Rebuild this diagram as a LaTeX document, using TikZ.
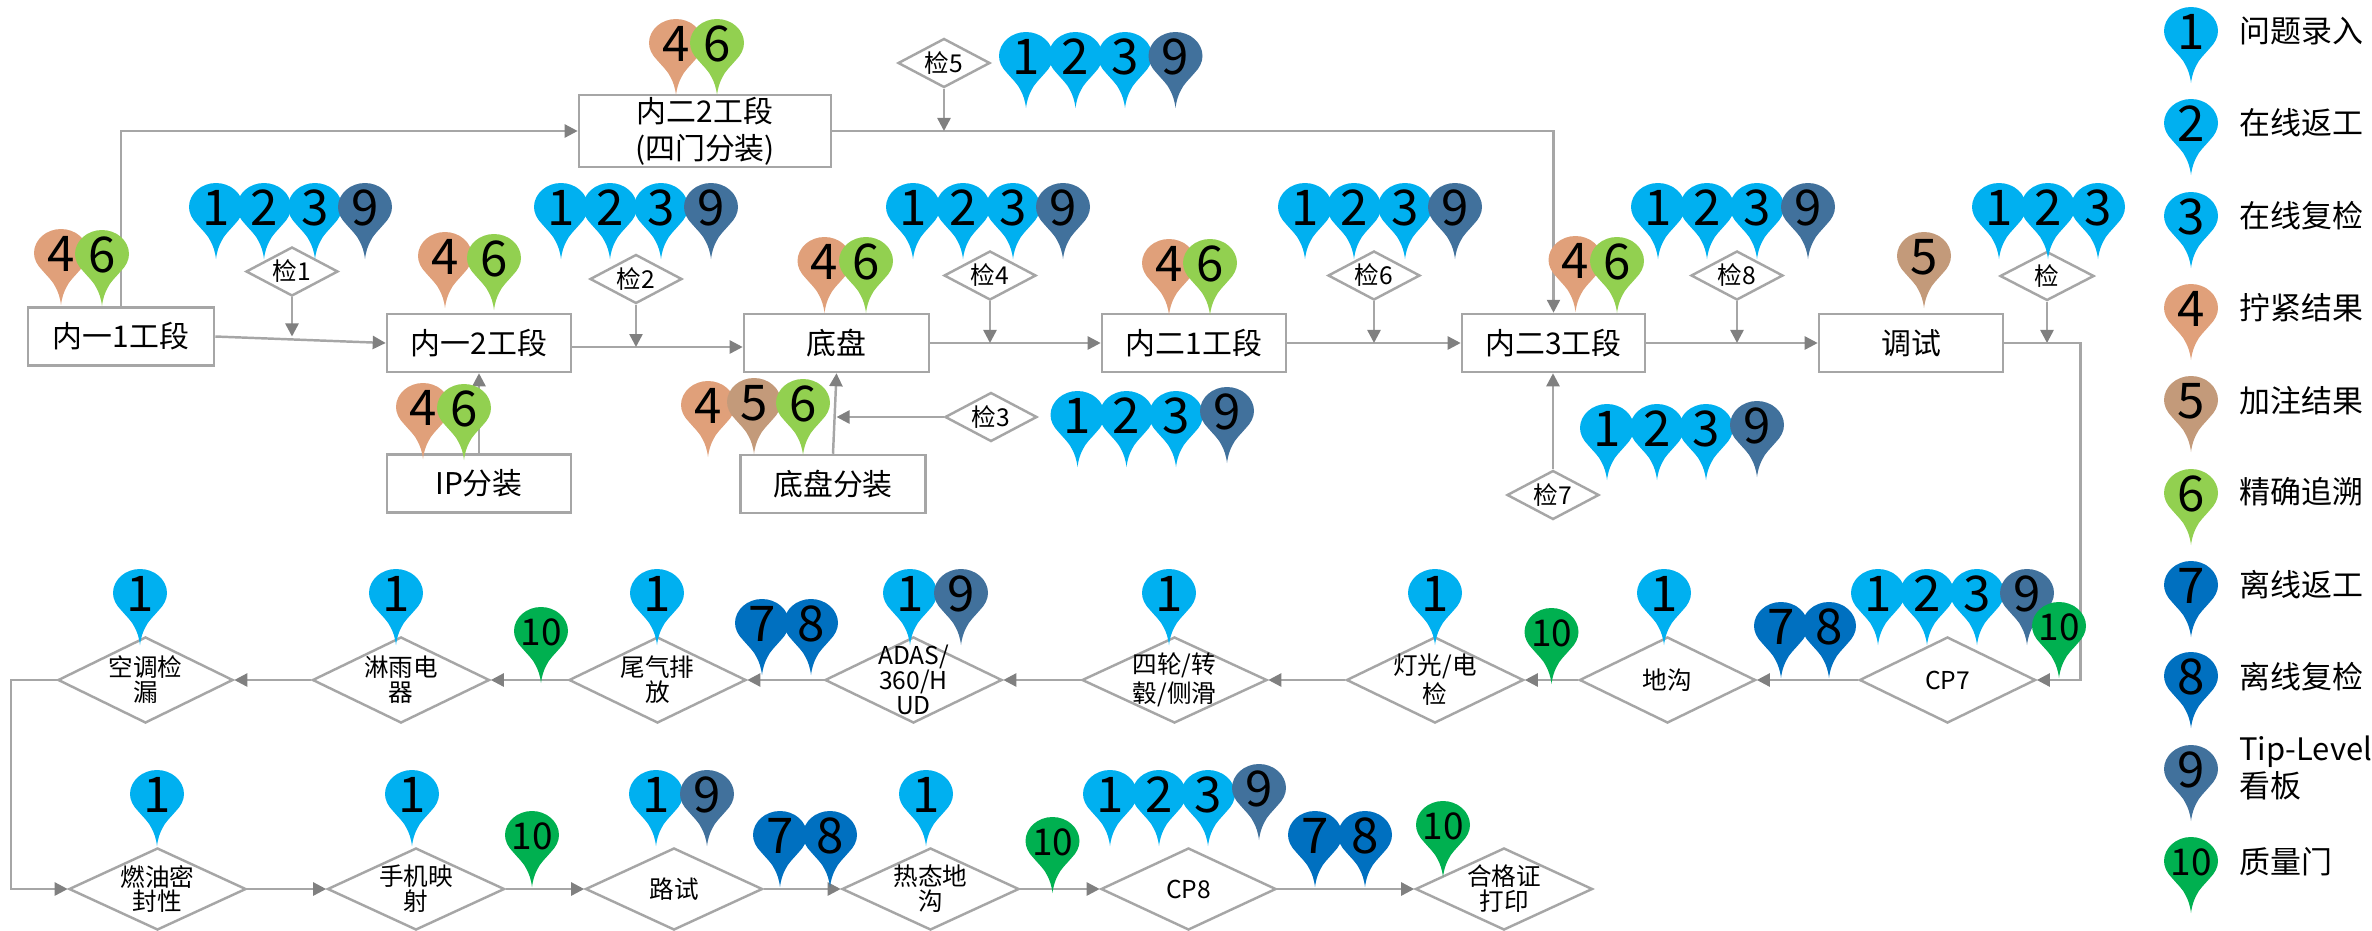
\documentclass[tikz,border=0pt]{standalone}
\usepackage{fontspec}
\setmainfont{Noto Sans CJK SC}
\usepackage{tikz}
\usetikzlibrary{arrows.meta,shapes.geometric}
\usepackage{xcolor}
\definecolor{linegray}{RGB}{166,166,166}
\definecolor{tipgray}{RGB}{128,128,128}
\definecolor{pin1}{RGB}{0,176,240}
\definecolor{pin2}{RGB}{0,176,240}
\definecolor{pin3}{RGB}{0,176,240}
\definecolor{pin4}{RGB}{224,160,122}
\definecolor{pin5}{RGB}{195,154,122}
\definecolor{pin6}{RGB}{146,208,80}
\definecolor{pin7}{RGB}{0,112,192}
\definecolor{pin8}{RGB}{0,112,192}
\definecolor{pin9}{RGB}{65,113,156}
\definecolor{pin10}{RGB}{0,176,80}
\tikzstyle{process} = [rectangle, minimum width=1.84cm, minimum height=0.58cm, align=center, draw=linegray, fill=white, line width=0.7pt, inner sep=0pt, font=\fontsize{8.5pt}{10.5pt}\selectfont]
\tikzstyle{check} = [diamond, minimum width=0.92cm, minimum height=0.49cm, draw=linegray, fill=white, line width=0.7pt, inner sep=0pt]
\tikzstyle{station} = [diamond, minimum width=1.77cm, minimum height=0.86cm, draw=linegray, fill=white, line width=0.7pt, inner sep=0pt, every label/.style={align=center, inner sep=0pt, font=\fontsize{8pt}{7.2pt}\selectfont}]
\tikzstyle{station2} = [station, minimum height=0.82cm]
\tikzstyle{arrow} = [line width=0.7pt, color=linegray, -{Triangle[length=1.3mm,width=1.3mm,color=tipgray]}]
\tikzstyle{legend} = [anchor=west, align=left, inner sep=0pt, font=\fontsize{8.8pt}{10.5pt}\selectfont]
\tikzstyle{pinnum} = [inner sep=0pt, text=black, font=\fontsize{14pt}{14pt}\selectfont]
\tikzstyle{pinsize10} = [font=\fontsize{10.5pt}{11pt}\selectfont]
\tikzset{every label/.style={align=center, inner sep=0pt, font=\fontsize{7pt}{7.1pt}\selectfont}}
\tikzset{pics/tagpin/.style={code={
  \fill[pin#1] (0,0) .. controls (-1,-8) and (-3,-13) .. (-5,-17)
    .. controls (-8,-24) and (-14,-29) .. (-19,-35)
    .. controls (-24,-40) and (-27,-46) .. (-27,-52)
    .. controls (-27,-65) and (-15,-76) .. (0,-76)
    .. controls (15,-76) and (27,-65) .. (27,-52)
    .. controls (27,-46) and (24,-40) .. (19,-35)
    .. controls (14,-29) and (8,-24) .. (5,-17)
    .. controls (3,-13) and (1,-8) .. (0,0) -- cycle;
  \node (num) at (0,-51) [pinnum, pinsize#1/.try] {#1};
}}}
\begin{document}
\begin{tikzpicture}[x=0.01cm,y=-0.01cm]
\useasboundingbox (0,0) rectangle (2372,930);
% Upper line
\node (yi1) [process, minimum width=1.86cm] at (121,336.5) {内一1工段};
\node (yi2) [process] at (479,343) {内一2工段};
\node (er2) [process, minimum width=2.52cm, minimum height=0.72cm] at (705,131) {内二2工段\\(四门分装)};
\node (ipfz) [process] at (479,483.5) {IP分装};
\node (dipan) [process, minimum width=1.85cm] at (836.5,343) {底盘};
\node (dpfz) [process, minimum width=1.85cm] at (833,484) {底盘分装};
\node (er1) [process] at (1194,343) {内二1工段};
\node (er3) [process, minimum width=1.83cm] at (1553.5,343) {内二3工段};
\node (tiaoshi) [process] at (1911,343) {调试};
% Checks
\node (jian1) [check, label=center:检1] at (292,271.5) {};
\node (jian2) [check, label=center:检2] at (636,279) {};
\node (jian3) [check, label=center:检3] at (991,417) {};
\node (jian4) [check, label=center:检4] at (990,275.5) {};
\node (jian5) [check, label=center:检5] at (944,63) {};
\node (jian6) [check, label=center:检6] at (1374,275.5) {};
\node (jian7) [check, label=center:检7] at (1553,495) {};
\node (jian8) [check, label=center:检8] at (1737,275.5) {};
\node (jian9) [check, label=center:检, minimum width=0.94cm] at (2047,276) {};
% Row one
\node (cp7) [station, label=center:CP7, minimum width=1.76cm] at (1947.5,680) {};
\node (digou) [station, label=center:地沟, minimum width=1.76cm] at (1667.5,680) {};
\node (light) [station, label=center:{灯光/电\\检}] at (1435,680) {};
\node (wheel) [station, label=center:{四轮/转\\毂/侧滑}, minimum width=1.85cm] at (1174.5,680) {};
\node (adas) [station, label=center:{ADAS/\\360/H\\UD}] at (913.5,680) {};
\node (tail) [station, label=center:{尾气排\\放}] at (657.5,680) {};
\node (rain) [station, label=center:{淋雨电\\器}] at (401,680) {};
\node (ac) [station, label=center:{空调检\\漏}, minimum width=1.75cm] at (145.5,680) {};
% Row two
\node (fuel) [station2, label=center:{燃油密\\封性}] at (157.5,889) {};
\node (phone) [station2, label=center:{手机映\\射}] at (416,889) {};
\node (road) [station2, label=center:路试] at (674,889) {};
\node (hot) [station2, label=center:{热态地\\沟}] at (930.5,889) {};
\node (cp8) [station2, label=center:CP8, minimum width=1.75cm] at (1188.5,889) {};
\node (cert) [station2, label=center:{合格证\\打印}] at (1504,889) {};
% Corners
\coordinate (corner1) at (2080.5,680);
\coordinate (corner2) at (11,680);
% Upper arrows
\draw[arrow] (yi1.east) -- (yi2.west);
\draw[arrow] ([yshift=-0.04cm]yi2.east) -- ([yshift=-0.04cm]dipan.west);
\draw[arrow] (dipan.east) -- (er1.west);
\draw[arrow] (er1.east) -- (er3.west);
\draw[arrow] (er3.east) -- (tiaoshi.west);
\draw[arrow] (yi1.north) |- (er2.west);
\draw[arrow] (er2.east) -| (er3.north);
\draw[arrow] (ipfz.north) -- (yi2.south);
\draw[arrow] (dpfz.north) -- (dipan.south);
\draw[arrow] (jian1.south) -- (jian1 |- yi1.east);
\draw[arrow] (jian2.south) -- ([yshift=-0.04cm]jian2 |- yi2.east);
\draw[arrow] (jian3.west) -- (jian3.west -| dipan.south);
\draw[arrow] (jian4.south) -- (jian4 |- dipan.east);
\draw[arrow] (jian5.south) -- (jian5 |- er2.east);
\draw[arrow] (jian6.south) -- (jian6 |- er1.east);
\draw[arrow] (jian7.north) -- (jian7.north |- er3.south);
\draw[arrow] (jian8.south) -- (jian8 |- er3.east);
\draw[arrow] (jian9.south) -- (jian9 |- tiaoshi.east);
% Lower arrows
\draw[arrow] (tiaoshi.east) -| (corner1) -- (cp7.east);
\draw[arrow] (cp7.west) -- (digou.east);
\draw[arrow] (digou.west) -- (light.east);
\draw[arrow] (light.west) -- (wheel.east);
\draw[arrow] (wheel.west) -- (adas.east);
\draw[arrow] (adas.west) -- (tail.east);
\draw[arrow] (tail.west) -- (rain.east);
\draw[arrow] (rain.west) -- (ac.east);
\draw[arrow] (ac.west) -- (corner2) |- (fuel.west);
\draw[arrow] (fuel.east) -- (phone.west);
\draw[arrow] (phone.east) -- (road.west);
\draw[arrow] (road.east) -- (hot.west);
\draw[arrow] (hot.east) -- (cp8.west);
\draw[arrow] (cp8.east) -- (cert.west);
% Pins
\foreach \x/\y/\n in {
  61/305/4, 102/306/6, 676/95/4, 717/95/6,
  216/259/1, 264/259/2, 315/259/3, 365/259/9,
  445/308/4, 494/310/6, 561/259/1, 610/259/2, 661/259/3, 711/259/9,
  423/459/4, 464/460/6, 708/457/4, 754/454/5, 803/455/6,
  824.5/313/4, 866/313/6, 913/259/1, 963/259/2, 1013/259/3, 1063/259/9,
  1026/108/1, 1075.5/108/2, 1125/108/3, 1175.5/108/9,
  1169/315/4, 1210/315/6, 1305/259/1, 1354/259/2, 1405/259/3, 1455/259/9,
  1077.5/467/1, 1126.5/467/2, 1176/467/3, 1227/463/9,
  1575.5/312/4, 1617/313/6,
  1607/480/1, 1657/480/2, 1706/480/3, 1757/477/9,
  1658/259/1, 1707/259/2, 1757/259/3, 1808/259/9,
  1924/308/5, 1999/259/1, 2048/259/2, 2098/259/3,
  % row one
  140/645/1, 396/645/1, 541/683/10, 657/645/1, 762/675/7, 811/675/8,
  910/645/1, 961/645/9, 1169/645/1, 1435/645/1, 1551.5/684/10, 1664/645/1,
  1781/678/7, 1829/678/8, 1878/645/1, 1927/645/2, 1977/645/3, 2027/645/9, 2059/678/10,
  % row two
  157/846/1, 412/846/1, 532/887/10, 656/846/1, 707/846/9, 780/887/7, 830/887/8,
  926/846/1, 1052.5/893/10, 1110/846/1, 1159/846/2, 1208/846/3, 1259/840/9,
  1315/887/7, 1365/887/8, 1443/877/10,
  % legend
  2191/83/1, 2191/175/2, 2191/268/3, 2191/360/4, 2191/452/5,
  2191/545/6, 2191/637/7, 2191/728/8, 2191/821/9, 2191/913/10}
  \pic (pin\x-\n) at (\x,\y) {tagpin=\n};
% Legend
\node (leg1) [legend] at (2238.5,31) {问题录入};
\node (leg2) [legend] at (2238.5,123) {在线返工};
\node (leg3) [legend] at (2238.5,216) {在线复检};
\node (leg4) [legend] at (2238.5,308) {拧紧结果};
\node (leg5) [legend] at (2238.5,401) {加注结果};
\node (leg6) [legend] at (2238.5,492) {精确追溯};
\node (leg7) [legend] at (2238.5,585) {离线返工};
\node (leg8) [legend] at (2238.5,677) {离线复检};
\node (leg9) [legend] at (2238.5,768) {Tip-Level\\看板};
\node (leg10) [legend] at (2238.5,862) {质量门};
\end{tikzpicture}
\end{document}
